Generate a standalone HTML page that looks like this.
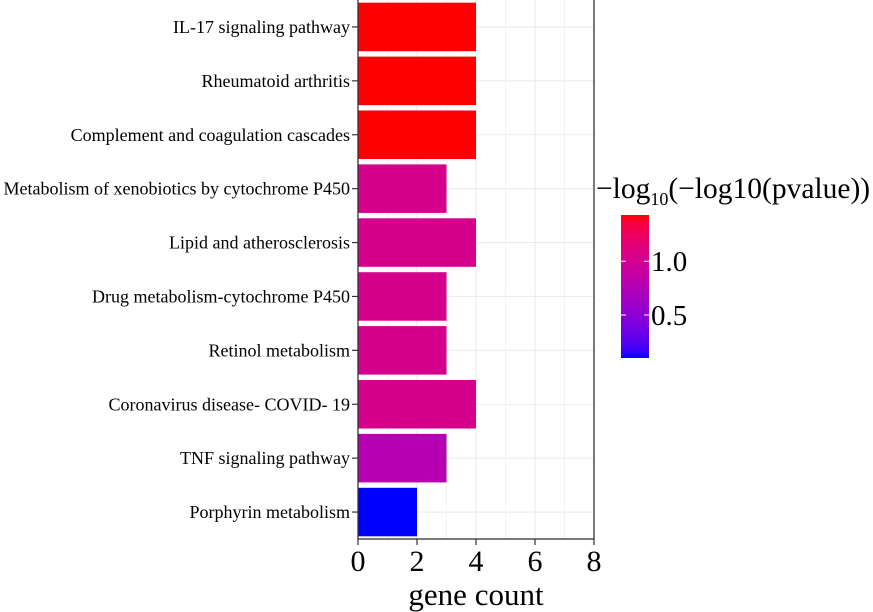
<!DOCTYPE html>
<html><head><meta charset="utf-8"><style>
body{margin:0;background:#fff;}
svg{display:block;font-family:"Liberation Serif","DejaVu Serif",serif;}
</style></head><body>
<svg id="chart" width="873" height="612"></svg>
<script>
const categories=["IL-17 signaling pathway","Rheumatoid arthritis","Complement and coagulation cascades","Metabolism of xenobiotics by cytochrome P450","Lipid and atherosclerosis","Drug metabolism-cytochrome P450","Retinol metabolism","Coronavirus disease- COVID- 19","TNF signaling pathway","Porphyrin metabolism"];
const geneCounts=[4,4,4,3,4,3,3,4,3,2];
const colorValues=[1.43,1.43,1.43,1.03,1.03,1.03,1.03,1.03,0.78,0.1];
const xTicks=[0,2,4,6,8];
const legendTicks=[0.5,1.0];
const legendTickLabels=["0.5","1.0"];
const NS="http://www.w3.org/2000/svg";
const svg=document.getElementById('chart');
const L=358,R=594,T=0,B=539;
const xMin=0,xMax=8,cMin=0.1,cMax=1.43;
const xs=v=>L+(v-xMin)/(xMax-xMin)*(R-L);
const band=(B-T)/categories.length;
const ys=i=>T+band*i+band/2;
const col=v=>{let t=Math.max(0,Math.min(1,(v-cMin)/(cMax-cMin)));return `rgb(${Math.round(255*Math.sqrt(t))},0,${Math.round(255*Math.sqrt(1-t))})`;};
function mk(tag,attrs,parent){const e=document.createElementNS(NS,tag);for(const k in attrs)e.setAttribute(k,attrs[k]);(parent||svg).appendChild(e);return e;}
for(let v=0;v<=8;v++){const g=mk('line',{x1:xs(v),x2:xs(v),y1:T,y2:B,stroke:'#ebebeb','stroke-width':v%2?0.6:1.1});

}
categories.forEach((c,i)=>{const g=mk('line',{x1:L,x2:R,y1:ys(i),y2:ys(i),stroke:'#ebebeb','stroke-width':1.1});

});
categories.forEach((c,i)=>{const h=band*0.9;
const b=mk('rect',{x:xs(0),y:ys(i)-h/2,width:xs(geneCounts[i])-xs(0),height:h,fill:col(colorValues[i])});


const tk=mk('line',{x1:L-6,x2:L,y1:ys(i),y2:ys(i),stroke:'#333','stroke-width':1.2});


const t=mk('text',{x:L-8,y:ys(i)+6,'text-anchor':'end','font-size':18,fill:'#000'});t.textContent=c;

});
const pb=mk('rect',{x:L,y:T-1,width:R-L,height:B-T+1,fill:'none',stroke:'#333','stroke-width':1.3});


xTicks.forEach(v=>{const tk=mk('line',{x1:xs(v),x2:xs(v),y1:B,y2:B+6,stroke:'#333','stroke-width':1.2});


const t=mk('text',{x:xs(v),y:B+32,'text-anchor':'middle','font-size':30,fill:'#000'});t.textContent=v;

});
const xt=mk('text',{x:(L+R)/2,y:605,'text-anchor':'middle','font-size':31,fill:'#000'});xt.textContent='gene count';


const lt=mk('text',{x:596,y:198,'font-size':29.5,fill:'#000'});


lt.innerHTML='−log<tspan font-size="18" dy="7">10</tspan><tspan dy="-7">(−log10(pvalue))</tspan>';
const defs=mk('defs',{});const gr=mk('linearGradient',{id:'cg',x1:0,y1:1,x2:0,y2:0},defs);
for(let k=0;k<=20;k++){mk('stop',{offset:k/20,'stop-color':col(cMin+k/20*(cMax-cMin))},gr);}
const cbT=215,cbB=358,cbL=621,cbW=28;
const cy=v=>cbB-(v-cMin)/(cMax-cMin)*(cbB-cbT);
const cb=mk('rect',{x:cbL,y:cbT,width:cbW,height:cbB-cbT,fill:'url(#cg)'});


legendTicks.forEach((v,i)=>{mk('line',{x1:cbL,x2:cbL+5,y1:cy(v),y2:cy(v),stroke:'#fff','stroke-width':1});
mk('line',{x1:cbL+cbW-5,x2:cbL+cbW,y1:cy(v),y2:cy(v),stroke:'#fff','stroke-width':1});
const t=mk('text',{x:cbL+cbW+2,y:cy(v)+10,'font-size':29,fill:'#000'});t.textContent=legendTickLabels[i];

});
</script>
</body></html>
